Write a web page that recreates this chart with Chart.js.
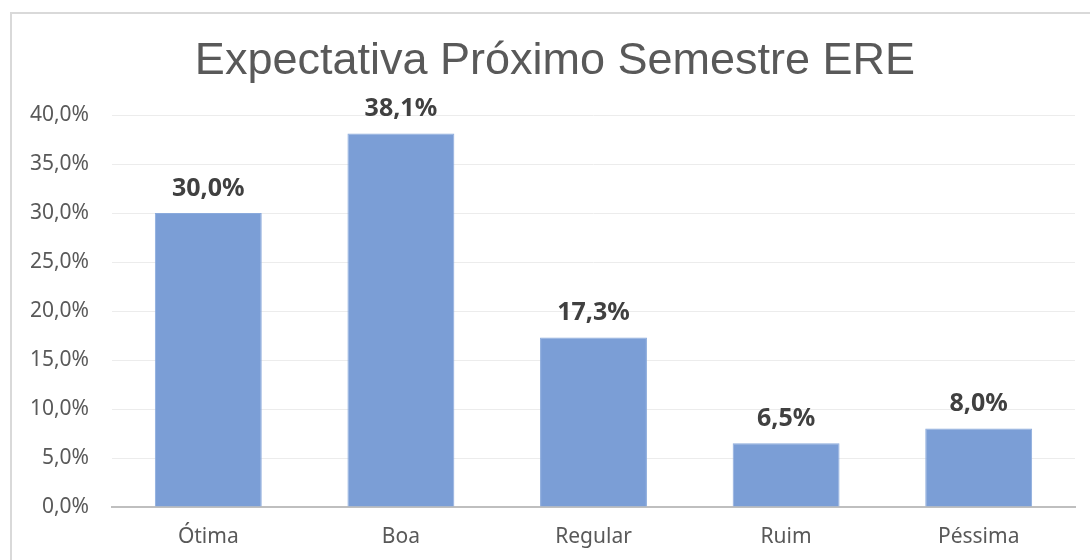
<!DOCTYPE html>
<html>
<head>
<meta charset="utf-8">
<script src="https://cdn.jsdelivr.net/npm/chart.js@4/dist/chart.umd.min.js"></script>
<style>
    html, body { margin: 0; padding: 0; background: #fff; overflow: hidden; }
    #frame {
        position: absolute;
        left: 10px;
        top: 12px;
        width: 1114px;
        height: 560px;
        border: 2px solid #d9d9d9;
        background: #fff;
    }
    #chart { display: block; }
</style>
</head>
<body>
<div id="frame">
    <canvas id="chart" width="1114" height="546"></canvas>
</div>
<script>
// ========================
// DATA
// ========================
const categories = ['Ótima', 'Boa', 'Regular', 'Ruim', 'Péssima'];
const percentages = [30.0, 38.1, 17.3, 6.5, 8.0];
const chartTitle = 'Expectativa Próximo Semestre ERE';

function formatPct(v) {
    return v.toFixed(1).replace('.', ',') + '%';
}

// ========================
// TITLE (drawn by hand so it can sit off-centre like the original)
// ========================
const titleText = {
    id: 'titleText',
    afterDraw(chart) {
        const ctx = chart.ctx;
        ctx.save();
        ctx.font = '45px "Liberation Sans", Arial';
        ctx.fillStyle = '#595959';
        ctx.textAlign = 'center';
        ctx.textBaseline = 'middle';
        ctx.fillText(chartTitle, 543, 48);
        ctx.restore();
    }
};

// ========================
// VALUE LABELS ABOVE BARS
// ========================
const valueLabels = {
    id: 'valueLabels',
    afterDatasetsDraw(chart) {
        const ctx = chart.ctx;
        const meta = chart.getDatasetMeta(0);
        ctx.save();
        ctx.font = 'bold 25px "Noto Sans"';
        ctx.fillStyle = '#404040';
        ctx.textAlign = 'center';
        ctx.textBaseline = 'bottom';
        meta.data.forEach(function(bar, i) {
            ctx.fillText(formatPct(percentages[i]), bar.x, bar.y - 12);
        });
        ctx.restore();
    }
};

// ========================
// CHART
// ========================
new Chart(document.getElementById('chart'), {
    type: 'bar',
    data: {
        labels: categories,
        datasets: [{
            data: percentages,
            backgroundColor: '#7b9ed6',
            borderColor: '#8aaadc',
            borderWidth: 1,
            categoryPercentage: 1,
            barPercentage: 0.555
        }]
    },
    options: {
        responsive: false,
        animation: false,
        layout: { padding: { left: 0, right: 51, top: 101, bottom: 0 } },
        plugins: {
            legend: { display: false },
            tooltip: { enabled: false },
            title: { display: false }
        },
        scales: {
            x: {
                grid: { display: false, drawTicks: false },
                border: { display: true, color: '#bfbfbf', width: 2 },
                ticks: {
                    color: '#595959',
                    font: { family: '"Noto Sans"', size: 21 },
                    padding: 17
                },
                afterFit(scale) { scale.height = 53; }
            },
            y: {
                min: 0,
                max: 40,
                grid: { color: '#ececec', lineWidth: 1, drawTicks: false },
                border: { display: false },
                ticks: {
                    stepSize: 5,
                    color: '#595959',
                    font: { family: '"Noto Sans"', size: 21 },
                    padding: 23,
                    callback: function(v) { return formatPct(v); }
                },
                afterFit(scale) { scale.width = 100; }
            }
        }
    },
    plugins: [valueLabels, titleText]
});
</script>
</body>
</html>
